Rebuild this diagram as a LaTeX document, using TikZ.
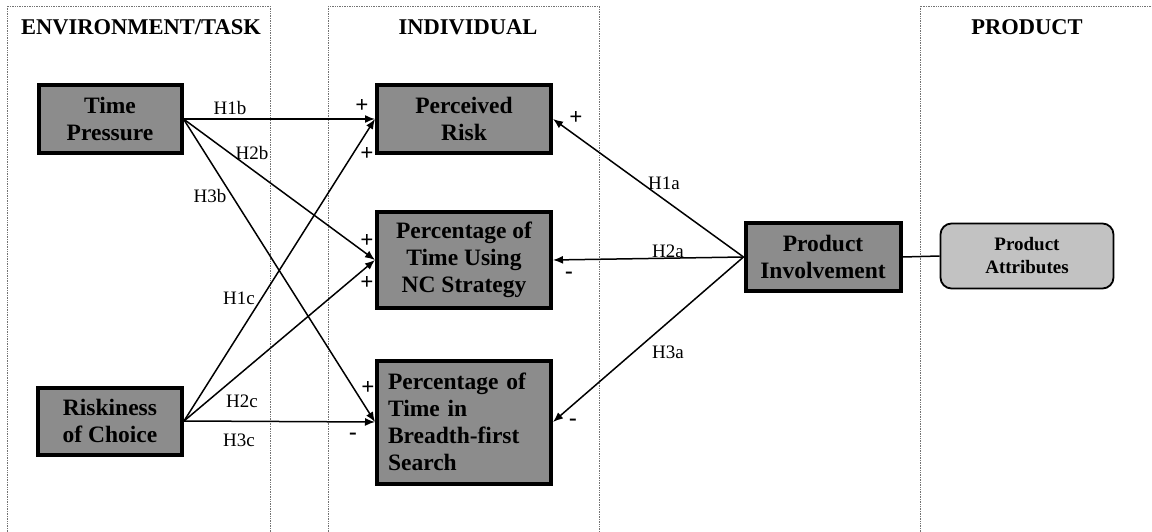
\documentclass[tikz,border=0pt]{standalone}
\usepackage{fontspec}
\setmainfont{Liberation Serif}
\usetikzlibrary{arrows.meta}
\tikzset{
  panel/.style={draw=black!55, densely dotted, line width=0.7pt},
  ptitle/.style={font=\fontsize{22.5}{26}\selectfont\bfseries, inner sep=0pt},
  varbox/.style={draw=black, line width=4pt, fill=black!45, align=center,
    font=\fontsize{23.5}{27}\selectfont\bfseries, inner sep=2pt},
  attrbox/.style={draw=black, line width=1.8pt, fill=black!24, rounded corners=11pt,
    align=center, font=\fontsize{19}{23}\selectfont\bfseries},
  link/.style={line width=1.5pt, -{Latex[length=10pt,width=8pt]}},
  hlab/.style={font=\fontsize{19}{22}\selectfont, inner sep=0pt},
  sgn/.style={font=\fontsize{23}{26}\selectfont\bfseries, inner sep=0pt},
}
\begin{document}
\begin{tikzpicture}[x=1pt,y=-1pt]
\useasboundingbox (0,0) rectangle (1152,532);
\begin{scope}
\clip (0,0) rectangle (1152,532);
\draw[panel] (7,6) rectangle (270,560);
\draw[panel] (328,6) rectangle (599,560);
\draw[panel] (920,6) rectangle (1170,560);
\end{scope}
\node[ptitle] (tenv) at (141,27) {ENVIRONMENT/TASK};
\node[ptitle] (tind) at (468,27) {INDIVIDUAL};
\node[ptitle] (tprod) at (1027,27) {PRODUCT};

\node[varbox, minimum width=143pt, minimum height=68pt] (tp) at (110,119) {Time\\Pressure};
\node[varbox, minimum width=144pt, minimum height=67pt] (rc) at (110,421) {Riskiness\\of Choice};
\node[varbox, minimum width=174pt, minimum height=68pt] (pr) at (464,119) {Perceived\\Risk};
\node[varbox, minimum width=174pt, minimum height=96pt] (nc) at (464,260) {Percentage of\\Time Using\\NC Strategy};
\node[varbox, minimum width=174pt, minimum height=123pt, text width=152pt, align=left] (bf) at (464,422) {Percentage of\\Time in\\Breadth-first\\Search};
\node[varbox, minimum width=155pt, minimum height=68pt] (pi) at (823,257) {Product\\Involvement};
\node[attrbox, minimum width=173pt, minimum height=65pt] (pa) at (1027,256) {Product\\Attributes};

\draw[link] (tp.east) -- (pr.west);
\draw[link] (tp.east) -- (nc.west);
\draw[link] (tp.east) -- (bf.west);
\draw[link] (rc.east) -- (pr.west);
\draw[link] (rc.east) -- (nc.west);
\draw[link] (rc.east) -- (bf.west);
\draw[link] (pi.west) -- (pr.east);
\draw[link] (pi.west) -- (nc.east);
\draw[link] (pi.west) -- (bf.east);
\draw[line width=1.5pt] (pi.east) -- (pa.west);

\node[hlab] (h1b) at (230,108) {H1b};
\node[hlab] (h2b) at (252,153) {H2b};
\node[hlab] (h3b) at (210,196) {H3b};
\node[hlab] (h1c) at (239,298) {H1c};
\node[hlab] (h2c) at (242,401) {H2c};
\node[hlab] (h3c) at (239,440) {H3c};
\node[hlab] (h1a) at (664,183) {H1a};
\node[hlab] (h2a) at (668,251) {H2a};
\node[hlab] (h3a) at (668,352) {H3a};

\node[sgn] (s1) at (362,106) {+};
\node[sgn] (s2) at (367,154) {+};
\node[sgn] (s3) at (367,241) {+};
\node[sgn] (s4) at (367,283) {+};
\node[sgn] (s5) at (368,388) {+};
\node[sgn] (s6) at (353,436) {-};
\node[sgn] (s7) at (576,118) {+};
\node[sgn] (s8) at (569,275) {-};
\node[sgn] (s9) at (573,422) {-};
\end{tikzpicture}
\end{document}
